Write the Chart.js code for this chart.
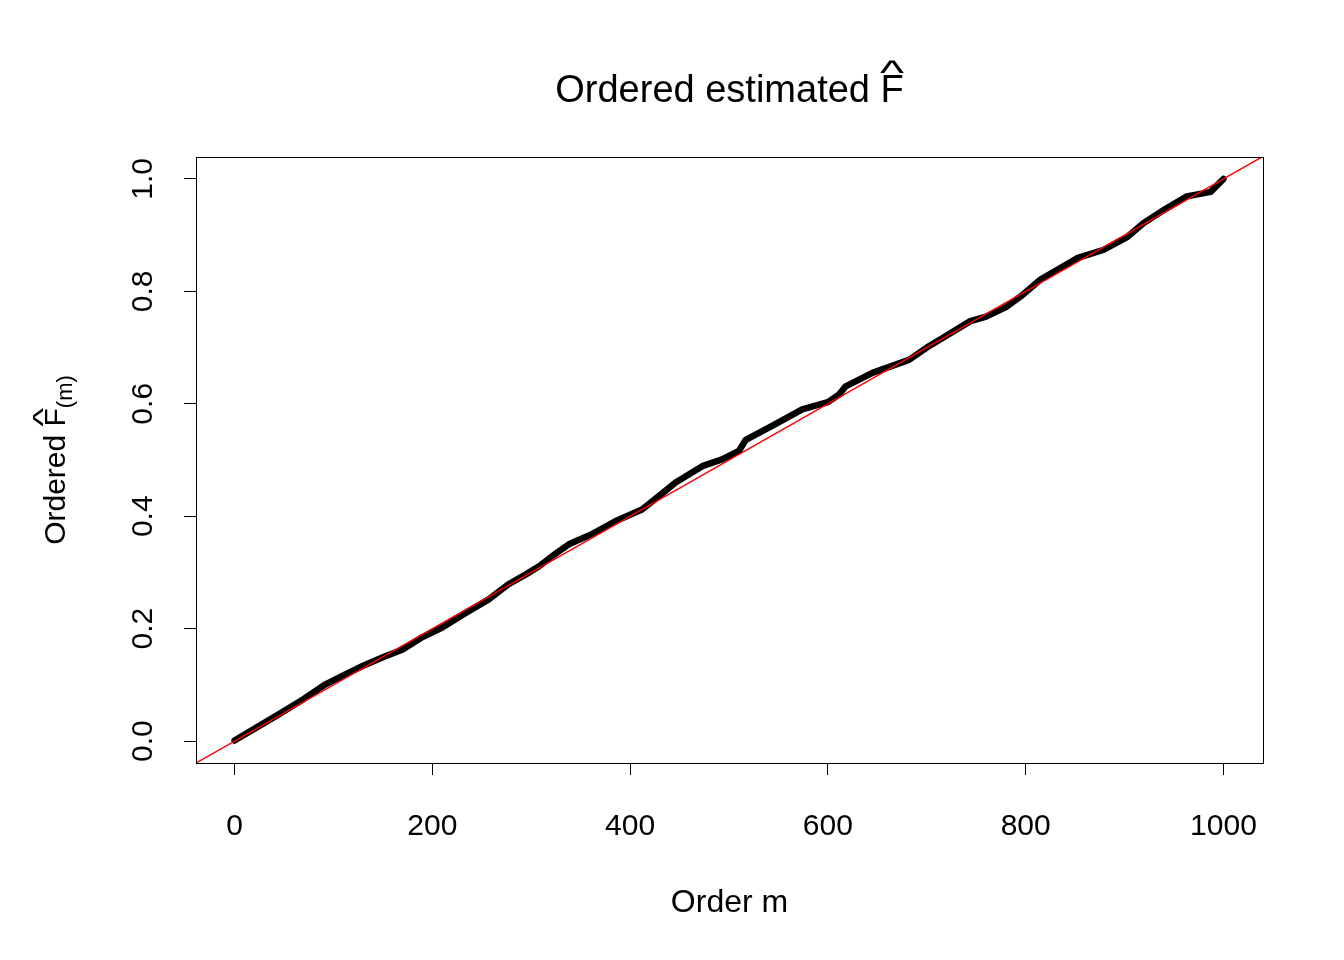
<!DOCTYPE html>
<html>
<head>
<meta charset="utf-8">
<script src="https://cdn.jsdelivr.net/npm/chart.js@4.4.1/dist/chart.umd.min.js"></script>
<style>
  html, body { margin: 0; padding: 0; background: #fff; }
</style>
</head>
<body>
<canvas id="c" width="1344" height="960"></canvas>
<script>
/* Ordered estimated F-hat vs order m, with the y = m/1000 reference line */

// ── Data ──────────────────────────────────────
const orderM = [0, 25, 45, 70, 92, 110, 130, 150, 170, 190, 210, 230, 257, 277, 295, 308,
                325, 338, 360, 385, 412, 430, 446, 473, 493, 510, 517, 545, 574, 600, 611,
                618, 645, 682, 700, 716, 744, 760, 780, 795, 815, 852, 879, 903, 919, 940,
                963, 987, 1000];
const fHat   = [0.001, 0.027, 0.048, 0.075, 0.101, 0.117, 0.134, 0.149, 0.163, 0.185, 0.202,
                0.224, 0.252, 0.279, 0.297, 0.311, 0.334, 0.350, 0.367, 0.391, 0.412, 0.437,
                0.460, 0.489, 0.501, 0.516, 0.536, 0.562, 0.590, 0.603, 0.616, 0.631, 0.655,
                0.678, 0.700, 0.717, 0.747, 0.755, 0.772, 0.791, 0.821, 0.859, 0.874, 0.897,
                0.921, 0.945, 0.969, 0.977, 1.000];

// reference line end points (abline a = 0, b = 1/1000), clipped to the plot box
const diagM = [-50, 1050];
const diagF = [-0.05, 1.05];

const xTicks = [0, 200, 400, 600, 800, 1000];
const yTicks = [0, 0.2, 0.4, 0.6, 0.8, 1.0];

const FONT = '"Liberation Sans", Arial, Helvetica, sans-serif';
const BOX  = { left: 196, top: 157, right: 1263, bottom: 763 };

// text with a hat over its last letter, drawn left-aligned from x
function hatText(ctx, text, x, y, size) {
  ctx.font = `${size}px ${FONT}`;
  ctx.textAlign = 'left';
  const wAll  = ctx.measureText(text).width;
  const wLast = ctx.measureText(text.slice(-1)).width;
  ctx.fillText(text, x, y);
  const hx = x + wAll - wLast / 2;
  ctx.save();
  ctx.translate(hx, y - size * 0.44);
  ctx.scale(1.35, 0.9);
  ctx.textAlign = 'center';
  ctx.fillText('^', 0, 0);
  ctx.restore();
  return wAll;
}

// ── R-style frame, labels and titles ──────────
const rBase = {
  id: 'rBase',
  afterDraw(chart) {
    const { ctx, chartArea: a, scales } = chart;
    ctx.save();
    ctx.strokeStyle = '#000';
    ctx.lineWidth = 1;
    ctx.strokeRect(a.left + 0.5, a.top + 0.5, a.right - a.left, a.bottom - a.top);

    ctx.fillStyle = '#000';
    ctx.textBaseline = 'alphabetic';

    // y tick labels, rotated like R's las = 0
    ctx.font = `30px ${FONT}`;
    ctx.textAlign = 'center';
    yTicks.forEach(v => {
      const py = scales.y.getPixelForValue(v);
      ctx.save();
      ctx.translate(152, py);
      ctx.rotate(-Math.PI / 2);
      ctx.fillText(v.toFixed(1), 0, 0);
      ctx.restore();
    });

    const cx = (a.left + a.right) / 2;

    // main title
    ctx.font = `38px ${FONT}`;
    const wt = ctx.measureText('Ordered estimated F').width;
    hatText(ctx, 'Ordered estimated F', cx - wt / 2, 102, 38);

    // x title
    ctx.font = `32px ${FONT}`;
    ctx.textAlign = 'center';
    ctx.fillText('Order m', cx, 912);

    // y title with hat and subscript
    const main = 'Ordered F';
    const sub  = '(m)';
    ctx.font = `30px ${FONT}`;
    const w1 = ctx.measureText(main).width;
    ctx.font = `22px ${FONT}`;
    const w2 = ctx.measureText(sub).width;
    ctx.save();
    ctx.translate(65, (a.top + a.bottom) / 2);
    ctx.rotate(-Math.PI / 2);
    hatText(ctx, main, -(w1 + w2) / 2, 0, 30);
    ctx.font = `22px ${FONT}`;
    ctx.textAlign = 'left';
    ctx.fillText(sub, -(w1 + w2) / 2 + w1, 7);
    ctx.restore();

    ctx.restore();
  },
};

// ── Chart ─────────────────────────────────────
const ctx = document.getElementById('c').getContext('2d');
new Chart(ctx, {
  type: 'scatter',
  data: {
    datasets: [
      {
        label: 'y = m/1000',
        data: diagM.map((m, i) => ({ x: m, y: diagF[i] })),
        showLine: true,
        borderColor: '#ff0000',
        borderWidth: 1.5,
        pointRadius: 0,
        order: 0,
      },
      {
        label: 'Ordered F',
        data: orderM.map((m, i) => ({ x: m, y: fHat[i] })),
        showLine: true,
        borderColor: '#000000',
        borderWidth: 6.5,
        borderCapStyle: 'round',
        borderJoinStyle: 'round',
        pointRadius: 0,
        order: 1,
      },
    ],
  },
  options: {
    responsive: false,
    animation: false,
    devicePixelRatio: 1,
    layout: { padding: { top: BOX.top, right: 1344 - BOX.right, left: 0, bottom: 0 } },
    plugins: {
      legend:  { display: false },
      title:   { display: false },
      tooltip: { enabled: false },
    },
    scales: {
      x: {
        type: 'linear',
        min: -39,
        max: 1040,
        afterBuildTicks: s => { s.ticks = xTicks.map(v => ({ value: v })); },
        afterFit: s => { s.height = 960 - BOX.bottom; },
        border: { display: false },
        grid: { drawOnChartArea: false, drawTicks: true, tickLength: 12, color: '#000', lineWidth: 1 },
        ticks: {
          color: '#000',
          font: { family: FONT, size: 30 },
          padding: 34,
          maxRotation: 0,
          autoSkip: false,
          callback: v => String(v),
        },
      },
      y: {
        type: 'linear',
        min: -0.039,
        max: 1.039,
        afterBuildTicks: s => { s.ticks = yTicks.map(v => ({ value: v })); },
        afterFit: s => { s.width = BOX.left; },
        border: { display: false },
        grid: { drawOnChartArea: false, drawTicks: true, tickLength: 12, color: '#000', lineWidth: 1 },
        ticks: { display: false },
      },
    },
  },
  plugins: [rBase],
});
</script>
</body>
</html>
